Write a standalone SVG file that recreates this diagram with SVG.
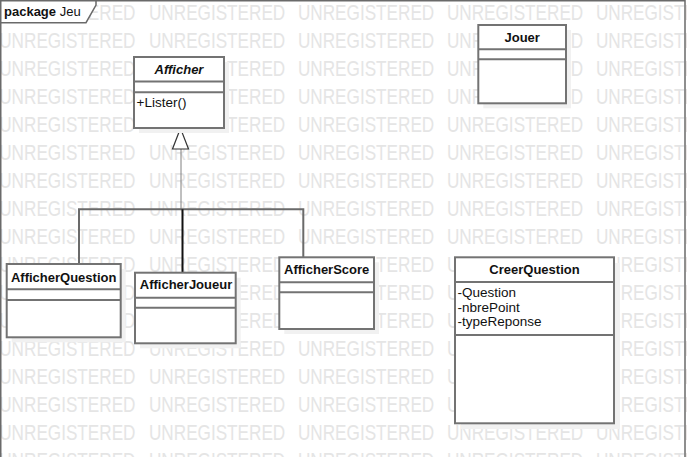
<svg xmlns="http://www.w3.org/2000/svg" xmlns:xlink="http://www.w3.org/1999/xlink" width="687" height="457" viewBox="0 0 687 457">
<style>
  .wm { font-family: "Liberation Sans", Arial, sans-serif; font-size: 22px; fill: #e5e5e5; }
  .box { fill: #ffffff; stroke: #737373; stroke-width: 2; }
  .shadow { fill: #f1f1f1; stroke: none; }
  .div { stroke: #737373; stroke-width: 2; fill: none; }
  .name { font-family: "Liberation Sans", Arial, sans-serif; font-size: 13px; font-weight: bold; fill: #111; text-anchor: middle; }
  .abs { font-style: italic; }
  .attr { font-family: "Liberation Sans", Arial, sans-serif; font-size: 13.5px; fill: #111; }
  .gen { stroke: #6a6a6a; stroke-width: 2; fill: none; }
</style>
<defs>
  <text id="wm" class="wm" transform="scale(0.78 1)"><tspan x="-1">UNREGISTERED</tspan><tspan x="191">UNREGISTERED</tspan><tspan x="382">UNREGISTERED</tspan><tspan x="573">UNREGISTERED</tspan><tspan x="764">UNREGISTERED</tspan></text>
</defs>
<rect x="0" y="0" width="687" height="457" fill="#ffffff"/>
<g id="watermark">
  <use xlink:href="#wm" y="19.5"/>
  <use xlink:href="#wm" y="47.5"/>
  <use xlink:href="#wm" y="75.5"/>
  <use xlink:href="#wm" y="103.5"/>
  <use xlink:href="#wm" y="131.5"/>
  <use xlink:href="#wm" y="159.5"/>
  <use xlink:href="#wm" y="187.5"/>
  <use xlink:href="#wm" y="215.5"/>
  <use xlink:href="#wm" y="243.5"/>
  <use xlink:href="#wm" y="271.5"/>
  <use xlink:href="#wm" y="299.5"/>
  <use xlink:href="#wm" y="327.5"/>
  <use xlink:href="#wm" y="355.5"/>
  <use xlink:href="#wm" y="383.5"/>
  <use xlink:href="#wm" y="411.5"/>
  <use xlink:href="#wm" y="439.5"/>
  <use xlink:href="#wm" y="467.5"/>
</g>
<g id="package-Jeu">
  <rect x="0.75" y="0.75" width="684.25" height="470" fill="none" stroke="#6a6a6a" stroke-width="1.5"/>
  <path d="M0.75,0.75 H96 V5 L86,22.7 H0.75 Z" fill="#ffffff" stroke="#6a6a6a" stroke-width="1.5"/>
  <text x="4" y="15.5" font-family="Liberation Sans, Arial, sans-serif" font-size="13" fill="#111"><tspan font-weight="bold">package</tspan> Jeu</text>
</g>
<g id="connectors">
  <line x1="181" y1="149" x2="181" y2="209.3" stroke="#808080" stroke-width="1"/>
  <polyline class="gen" points="79,264 79,209.3 303.3,209.3 303.3,257.3"/>
  <line x1="182.5" y1="209.3" x2="182.5" y2="272.7" stroke="#111" stroke-width="2"/>
  <polygon points="180.5,128.3 172.5,149 188.5,149" fill="#ffffff" stroke="#333" stroke-width="1.2"/>
</g>
<g id="Afficher">
  <rect class="shadow" x="139" y="62" width="90" height="71"/>
  <rect class="box" x="134" y="57" width="90" height="71"/>
  <line class="div" x1="134" y1="81.5" x2="224" y2="81.5"/>
  <line class="div" x1="134" y1="92.3" x2="224" y2="92.3"/>
  <text class="name abs" x="179" y="74">Afficher</text>
  <text class="attr" x="136.5" y="106.5">+Lister()</text>
</g>
<g id="Jouer">
  <rect class="shadow" x="483.3" y="30" width="87.7" height="78.3"/>
  <rect class="box" x="478.3" y="25" width="87.7" height="78.3"/>
  <line class="div" x1="478.3" y1="49.3" x2="566" y2="49.3"/>
  <line class="div" x1="478.3" y1="59.3" x2="566" y2="59.3"/>
  <text class="name" x="522.2" y="41.7">Jouer</text>
</g>
<g id="AfficherQuestion">
  <rect class="shadow" x="11.7" y="269" width="114" height="73.3"/>
  <rect class="box" x="6.7" y="264" width="114" height="73.3"/>
  <line class="div" x1="6.7" y1="289.3" x2="120.7" y2="289.3"/>
  <line class="div" x1="6.7" y1="300" x2="120.7" y2="300"/>
  <text class="name" x="63.7" y="282.3">AfficherQuestion</text>
</g>
<g id="AfficherJoueur">
  <rect class="shadow" x="140" y="277.7" width="100.7" height="70.6"/>
  <rect class="box" x="135" y="272.7" width="100.7" height="70.6"/>
  <line class="div" x1="135" y1="297.7" x2="235.7" y2="297.7"/>
  <line class="div" x1="135" y1="307.7" x2="235.7" y2="307.7"/>
  <text class="name" x="186" y="289.3">AfficherJoueur</text>
</g>
<g id="AfficherScore">
  <rect class="shadow" x="284.3" y="262.3" width="94.7" height="71.7"/>
  <rect class="box" x="279.3" y="257.3" width="94.7" height="71.7"/>
  <line class="div" x1="279.3" y1="282.3" x2="374" y2="282.3"/>
  <line class="div" x1="279.3" y1="292.3" x2="374" y2="292.3"/>
  <text class="name" x="326.7" y="274.3">AfficherScore</text>
</g>
<g id="CreerQuestion">
  <rect class="shadow" x="461" y="263" width="159" height="166"/>
  <rect class="box" x="455" y="257.3" width="159" height="166"/>
  <line class="div" x1="455" y1="282" x2="614" y2="282"/>
  <line class="div" x1="455" y1="335" x2="614" y2="335"/>
  <text class="name" x="534.5" y="273.5">CreerQuestion</text>
  <text class="attr" x="457.5" y="297">-Question</text>
  <text class="attr" x="457.5" y="311.5">-nbrePoint</text>
  <text class="attr" x="457.5" y="326">-typeReponse</text>
</g>
</svg>
